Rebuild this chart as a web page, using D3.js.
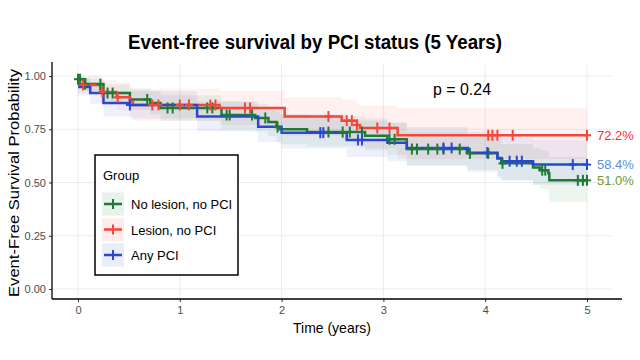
<!DOCTYPE html>
<html><head><meta charset="utf-8">
<script src="https://cdn.jsdelivr.net/npm/d3@7"></script>
<style>body{margin:0;background:#fff}text{font-family:"Liberation Sans",Arial,sans-serif}</style>
</head><body><svg id="c" width="640" height="360"></svg>
<script>
const groups = ["No lesion, no PCI", "Lesion, no PCI", "Any PCI"];
const colors = ["#1f7a35", "#f4473a", "#2a47d2"];
const endLabelColors = ["#6e9a2e", "#ff2a2a", "#5a8fe0"];
const endLabels = ["51.0%", "72.2%", "58.4%"];
const xTicks = [0, 1, 2, 3, 4, 5];
const yTicks = [0, 0.25, 0.5, 0.75, 1];
const yTickLabels = ["0.00", "0.25", "0.50", "0.75", "1.00"];
const pText = "p = 0.24";

// Green: No lesion, no PCI
const greenTime  = [0, 0.07, 0.25, 0.51, 0.71, 0.81, 1.41, 1.74, 1.87, 1.95, 1.98, 2.25, 2.82, 3.04, 3.23, 3.82, 4.12, 4.16, 4.47, 4.54, 4.62, 4.63];
const greenSurv  = [0.985, 0.962, 0.92, 0.89, 0.873, 0.85, 0.817, 0.803, 0.784, 0.76, 0.75, 0.737, 0.72, 0.703, 0.657, 0.637, 0.613, 0.59, 0.571, 0.558, 0.543, 0.51];
const greenLower = [0.96, 0.93, 0.88, 0.84, 0.82, 0.79, 0.75, 0.74, 0.72, 0.69, 0.68, 0.67, 0.65, 0.63, 0.58, 0.56, 0.53, 0.51, 0.49, 0.47, 0.46, 0.41];
const greenUpper = [1.0, 0.99, 0.96, 0.94, 0.93, 0.91, 0.88, 0.87, 0.85, 0.83, 0.82, 0.81, 0.80, 0.78, 0.74, 0.72, 0.70, 0.68, 0.66, 0.65, 0.64, 0.62];
const greenCensor = [0.0, 0.02, 0.07, 0.22, 0.29, 0.34, 0.68, 0.88, 0.93, 1.27, 1.32, 1.46, 1.49, 1.71, 1.84, 1.96, 2.46, 2.60, 2.67, 2.79, 3.06, 3.11, 3.28, 3.33, 3.44, 3.53, 3.59, 3.75, 3.85, 4.03, 4.17, 4.56, 4.59, 4.91, 4.96, 5.0];

// Red: Lesion, no PCI
const redTime  = [0, 0.22, 0.38, 0.51, 0.54, 1.39, 2.03, 2.59, 2.74, 2.77, 3.14];
const redSurv  = [0.958, 0.925, 0.90, 0.88, 0.864, 0.85, 0.81, 0.79, 0.77, 0.756, 0.722];
const redLower = [0.92, 0.87, 0.84, 0.81, 0.79, 0.77, 0.72, 0.70, 0.67, 0.66, 0.61];
const redUpper = [1.0, 0.98, 0.97, 0.95, 0.94, 0.93, 0.90, 0.89, 0.87, 0.86, 0.85];
const redCensor = [0.05, 0.24, 0.39, 0.73, 0.79, 1.0, 1.09, 1.30, 1.35, 1.64, 1.69, 2.46, 2.64, 2.69, 2.74, 2.94, 3.06, 4.03, 4.07, 4.12, 4.27, 5.0];

// Blue: Any PCI
const blueTime  = [0, 0.12, 0.25, 0.51, 1.17, 1.77, 2.00, 2.64, 3.04, 3.23, 3.83, 4.12, 4.16, 4.47];
const blueSurv  = [0.948, 0.92, 0.873, 0.864, 0.81, 0.762, 0.734, 0.70, 0.687, 0.662, 0.64, 0.615, 0.60, 0.584];
const blueLower = [0.91, 0.87, 0.81, 0.80, 0.74, 0.69, 0.66, 0.62, 0.60, 0.58, 0.55, 0.52, 0.51, 0.49];
const blueUpper = [0.99, 0.97, 0.93, 0.93, 0.88, 0.84, 0.82, 0.79, 0.78, 0.76, 0.74, 0.72, 0.71, 0.70];
const blueCensor = [0.51, 2.38, 2.41, 2.75, 2.79, 3.59, 3.67, 4.02, 4.24, 4.31, 4.36, 4.86, 5.0];

const endTime = 5;

const series = [
  {time: greenTime, surv: greenSurv, lo: greenLower, hi: greenUpper, cens: greenCensor},
  {time: redTime, surv: redSurv, lo: redLower, hi: redUpper, cens: redCensor},
  {time: blueTime, surv: blueSurv, lo: blueLower, hi: blueUpper, cens: blueCensor}
];

const svg = d3.select("#c");
const x = d3.scaleLinear().domain([0, 5]).range([78, 587]);
const y = d3.scaleLinear().domain([0, 1]).range([289, 76]);
const panelL = 52, panelR = 612, panelT = 64, panelB = 299;

// grid
const g = svg.append("g");
g.selectAll(".gy").data(yTicks).enter().append("line")
  .attr("x1", panelL).attr("x2", panelR).attr("y1", d => y(d)).attr("y2", d => y(d))
  .attr("stroke", "#ececec").attr("stroke-width", 1);
g.selectAll(".gx").data(xTicks).enter().append("line")
  .attr("y1", panelT).attr("y2", panelB).attr("x1", d => x(d)).attr("x2", d => x(d))
  .attr("stroke", "#ececec").attr("stroke-width", 1);

// bands
const area = d3.area().curve(d3.curveStepAfter)
  .x(d => x(d.t)).y0(d => y(d.lo)).y1(d => y(d.hi));
const line = d3.line().curve(d3.curveStepAfter).x(d => x(d.t)).y(d => y(d.s));

const pts = series.map(s => {
  const p = s.time.map((t, i) => ({t, s: s.surv[i], lo: s.lo[i], hi: s.hi[i]}));
  const last = p[p.length - 1];
  p.push({t: endTime, s: last.s, lo: last.lo, hi: last.hi});
  return p;
});

pts.forEach((p, i) => {
  svg.append("path").attr("d", area(p)).attr("fill", colors[i]).attr("fill-opacity", 0.08);
});
pts.forEach((p, i) => {
  svg.append("path").attr("d", line(p)).attr("fill", "none")
    .attr("stroke", colors[i]).attr("stroke-width", 2.5);
});

// censor marks
function survAt(s, t) {
  let v = s.surv[0];
  for (let k = 0; k < s.time.length; k++) if (s.time[k] <= t) v = s.surv[k];
  return v;
}
series.forEach((s, i) => {
  const gg = svg.append("g").attr("stroke", colors[i]).attr("stroke-width", 2);
  s.cens.forEach(t => {
    const cx = x(t), cy = y(survAt(s, t));
    gg.append("line").attr("x1", cx).attr("x2", cx).attr("y1", cy - 5.5).attr("y2", cy + 5.5);
    gg.append("line").attr("x1", cx - 4).attr("x2", cx + 4).attr("y1", cy).attr("y2", cy);
  });
});

// axes
const xAxis = d3.axisBottom(x).tickValues(xTicks).tickSize(3).tickPadding(4).tickFormat(d3.format("d"));
const yAxis = d3.axisLeft(y).tickValues(yTicks).tickSize(3).tickPadding(3).tickFormat((d, i) => yTickLabels[i]);
const xa = svg.append("g").attr("transform", `translate(0,${panelB})`).call(xAxis);
const ya = svg.append("g").attr("transform", `translate(${panelL},0)`).call(yAxis);
[xa, ya].forEach(a => {
  a.select(".domain").remove();
  a.selectAll(".tick line").attr("stroke", "#333");
  a.selectAll(".tick text").attr("fill", "#4d4d4d").style("font-size", "11px");
});
svg.append("line").attr("x1", panelL).attr("x2", panelL).attr("y1", 62).attr("y2", panelB)
  .attr("stroke", "#000").attr("stroke-width", 1.3);
svg.append("line").attr("x1", panelL).attr("x2", 622).attr("y1", panelB).attr("y2", panelB)
  .attr("stroke", "#000").attr("stroke-width", 1.3);

// titles
svg.append("text").attr("x", 315).attr("y", 49).attr("text-anchor", "middle")
  .style("font-size", "20px").style("font-weight", "bold")
  .attr("textLength", 374).attr("lengthAdjust", "spacingAndGlyphs")
  .text("Event-free survival by PCI status (5 Years)");
svg.append("text").attr("transform", "translate(19,183) rotate(-90)").attr("text-anchor", "middle")
  .style("font-size", "15px").attr("textLength", 228).attr("lengthAdjust", "spacingAndGlyphs")
  .text("Event-Free Survival Probability");
svg.append("text").attr("x", 332).attr("y", 333).attr("text-anchor", "middle")
  .style("font-size", "15px").attr("textLength", 78).attr("lengthAdjust", "spacingAndGlyphs")
  .text("Time (years)");
svg.append("text").attr("x", 433).attr("y", 95).style("font-size", "16px")
  .attr("textLength", 58).attr("lengthAdjust", "spacingAndGlyphs").text(pText);

// end labels
series.forEach((s, i) => {
  svg.append("text").attr("x", 597).attr("y", y(s.surv[s.surv.length - 1]) + 4.5)
    .attr("fill", endLabelColors[i]).style("font-size", "13px").text(endLabels[i]);
});

// legend
const lg = svg.append("g");
lg.append("rect").attr("x", 95).attr("y", 155).attr("width", 143).attr("height", 120)
  .attr("fill", "#fff").attr("stroke", "#000").attr("stroke-width", 1.5);
lg.append("text").attr("x", 103).attr("y", 180).style("font-size", "13px").text("Group");
groups.forEach((name, i) => {
  const cy = 204 + i * 25.5;
  lg.append("rect").attr("x", 102).attr("y", cy - 11.5).attr("width", 22).attr("height", 23)
    .attr("fill", colors[i]).attr("fill-opacity", 0.1);
  lg.append("line").attr("x1", 104).attr("x2", 122).attr("y1", cy).attr("y2", cy)
    .attr("stroke", colors[i]).attr("stroke-width", 2.5);
  lg.append("line").attr("x1", 113).attr("x2", 113).attr("y1", cy - 5).attr("y2", cy + 5)
    .attr("stroke", colors[i]).attr("stroke-width", 2);
  lg.append("text").attr("x", 131).attr("y", cy + 5).style("font-size", "13px").text(name);
});
</script></body></html>
